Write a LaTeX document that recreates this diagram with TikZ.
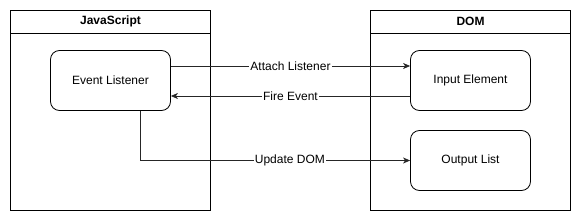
\documentclass[tikz,border=0pt]{standalone}
\usepackage{fontspec}
\setmainfont{Liberation Sans}
\usetikzlibrary{arrows.meta}
\begin{document}
\begin{tikzpicture}[x=1pt,y=-1pt,
  every node/.style={font=\fontsize{12}{14}\selectfont},
  lane/.style={draw=black,line width=0.8pt},
  hdr/.style={font=\fontsize{12}{14}\selectfont\bfseries},
  box/.style={draw=black,line width=0.8pt,rounded corners=9pt,minimum width=120pt,minimum height=60pt,inner sep=0pt},
  conn/.style={draw=black!85,line width=0.8pt,-{Stealth[length=7pt,width=6pt,inset=2pt]}},
  lbl/.style={fill=white,inner sep=1pt,font=\fontsize{12}{14}\selectfont}]
\useasboundingbox (0,0) rectangle (582,222);
% JavaScript lane
\draw[lane] (10.5,10.5) rectangle (210.5,210.5);
\draw[lane] (10.5,33) -- (210.5,33);
\node[hdr] (jsh) at (110.5,21.5) {JavaScript};
% DOM lane
\draw[lane] (370.5,10.5) rectangle (570.5,210.5);
\draw[lane] (370.5,33) -- (570.5,33);
\node[hdr] (domh) at (470.5,21.5) {DOM};
% boxes
\node[box] (el) at (110.5,80.5) {Event Listener};
\node[box] (ie) at (470.5,80.5) {Input Element};
\node[box] (ol) at (470.5,160.5) {Output List};
% connectors
\draw[conn] (el.east |- 0,66) -- node[lbl] {Attach Listener} (ie.west |- 0,66);
\draw[conn] (ie.west |- 0,96) -- node[lbl] {Fire Event} (el.east |- 0,96);
\coordinate (bend) at (140.5,160.5);
\draw[conn] (el.south -| bend) -- (bend) -- node[lbl,pos=0.554] {Update DOM} (ol.west);
\end{tikzpicture}
\end{document}
